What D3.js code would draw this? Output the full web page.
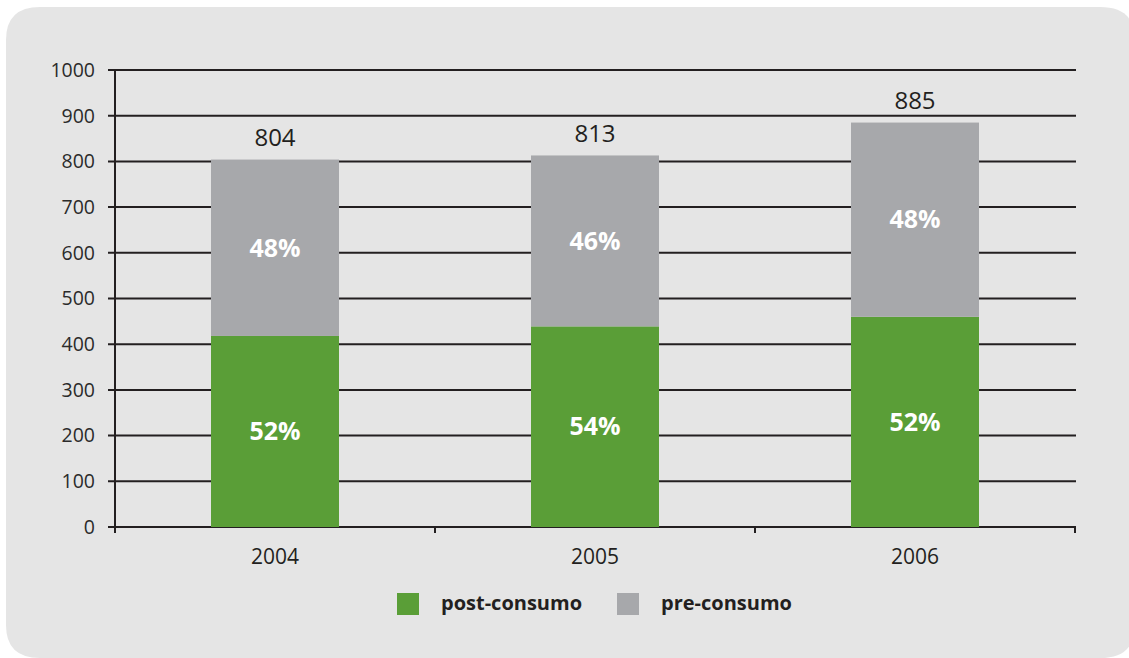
<!DOCTYPE html>
<html><head><meta charset="utf-8">
<script src="https://cdn.jsdelivr.net/npm/d3@7"></script>
<style>body{margin:0;background:#fff}svg{display:block}</style>
</head><body>
<svg id="c" width="1129" height="658"></svg>
<script>
const categories = ["2004", "2005", "2006"];
const postConsumo = [418, 439, 460];
const preConsumo = [386, 374, 425];
const totals = [804, 813, 885];
const postPct = ["52%", "54%", "52%"];
const prePct = ["48%", "46%", "48%"];
const yTicks = [0, 100, 200, 300, 400, 500, 600, 700, 800, 900, 1000];
const seriesNames = ["post-consumo", "pre-consumo"];
const colors = ["#5a9e37", "#a7a8ab"];

const svg = d3.select("#c");
const font = "'Open Sans', 'Noto Sans', sans-serif";

// background panel
svg.append("path")
  .attr("d", "M6,40 Q6,7 40,7 L1100,7 Q1135,7 1135,40 L1135,625 Q1135,658 1100,658 L40,658 Q6,658 6,625 Z")
  .attr("fill", "#e5e5e5");

const pLeft = 115, pRight = 1075, pTop = 70, pBottom = 527;
const x = d3.scaleBand().domain(categories).range([pLeft, pRight]).paddingInner(0.6).paddingOuter(0.3);
const y = d3.scaleLinear().domain([0, 1000]).range([pBottom, pTop]);

// gridlines
svg.append("g").selectAll("line").data(yTicks).join("line")
  .attr("x1", pLeft - 7).attr("x2", pRight + 1)
  .attr("y1", d => y(d)).attr("y2", d => y(d))
  .attr("stroke", "#231f20").attr("stroke-width", 2);

// y tick labels
svg.append("g").selectAll("text").data(yTicks).join("text")
  .attr("x", 95).attr("y", d => y(d)).attr("dy", "0.35em")
  .attr("text-anchor", "end")
  .attr("font-family", font).attr("font-size", 19.5).attr("fill", "#2b2b2b")
  .text(d => d);

// bars
const data = categories.map((c, i) => ({c, post: postConsumo[i], pre: preConsumo[i], total: totals[i], pp: postPct[i], rp: prePct[i]}));
const g = svg.append("g");
g.selectAll("rect.post").data(data).join("rect")
  .attr("x", d => x(d.c)).attr("width", x.bandwidth())
  .attr("y", d => y(d.post)).attr("height", d => y(0) - y(d.post))
  .attr("fill", colors[0]);
g.selectAll("rect.pre").data(data).join("rect")
  .attr("x", d => x(d.c)).attr("width", x.bandwidth())
  .attr("y", d => y(d.post + d.pre)).attr("height", d => y(d.post) - y(d.post + d.pre))
  .attr("fill", colors[1]);

// percentage labels
g.selectAll("text.pp").data(data).join("text")
  .attr("x", d => x(d.c) + x.bandwidth() / 2)
  .attr("y", d => (y(0) + y(d.post)) / 2).attr("dy", "0.35em")
  .attr("text-anchor", "middle").attr("font-family", font)
  .attr("font-weight", "bold").attr("font-size", 25).attr("fill", "#fff")
  .text(d => d.pp);
g.selectAll("text.rp").data(data).join("text")
  .attr("x", d => x(d.c) + x.bandwidth() / 2)
  .attr("y", d => (y(d.post) + y(d.post + d.pre)) / 2).attr("dy", "0.35em")
  .attr("text-anchor", "middle").attr("font-family", font)
  .attr("font-weight", "bold").attr("font-size", 25).attr("fill", "#fff")
  .text(d => d.rp);

// totals
g.selectAll("text.tot").data(data).join("text")
  .attr("x", d => x(d.c) + x.bandwidth() / 2)
  .attr("y", d => y(d.total) - 22).attr("dy", "0.35em")
  .attr("text-anchor", "middle").attr("font-family", font)
  .attr("font-size", 24).attr("fill", "#231f20")
  .text(d => d.total);

// axes lines
svg.append("line").attr("x1", pLeft).attr("x2", pLeft).attr("y1", pTop).attr("y2", pBottom + 6)
  .attr("stroke", "#231f20").attr("stroke-width", 2);
const bounds = [pLeft].concat(categories.map(c => x(c) - x.step() * x.paddingInner() / 2 + x.step()));
svg.append("g").selectAll("line").data(bounds).join("line")
  .attr("x1", d => d).attr("x2", d => d).attr("y1", pBottom).attr("y2", pBottom + 6)
  .attr("stroke", "#231f20").attr("stroke-width", 2);

// x labels
svg.append("g").selectAll("text").data(categories).join("text")
  .attr("x", d => x(d) + x.bandwidth() / 2).attr("y", 557).attr("dy", "0.35em")
  .attr("text-anchor", "middle").attr("font-family", font)
  .attr("font-size", 21).attr("fill", "#231f20").text(d => d);

// legend
const legX = [397, 617];
const lg = svg.append("g");
lg.selectAll("rect").data(seriesNames).join("rect")
  .attr("x", (d, i) => legX[i]).attr("y", 593).attr("width", 22).attr("height", 22)
  .attr("fill", (d, i) => colors[i]);
lg.selectAll("text").data(seriesNames).join("text")
  .attr("x", (d, i) => legX[i] + 44).attr("y", 603).attr("dy", "0.35em")
  .attr("font-family", font).attr("font-weight", "bold").attr("font-size", 20)
  .attr("fill", "#231f20").text(d => d);
</script>
</body></html>
